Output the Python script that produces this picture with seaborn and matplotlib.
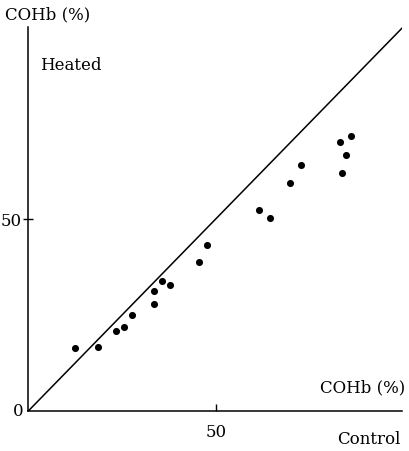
import matplotlib.pyplot as plt
import seaborn as sns

# COHb (%): control vs heated
control = [12.5, 18.7, 23.5, 25.5, 27.6, 33.5, 33.5, 35.8, 37.7, 45.5,
           47.8, 61.6, 64.6, 69.7, 72.7, 83.2, 86.0, 84.8, 83.8]
heated = [16.3, 16.7, 20.9, 21.9, 25.1, 31.3, 27.9, 33.9, 32.9, 38.7,
          43.3, 52.3, 50.3, 59.3, 64.1, 70.1, 71.6, 66.6, 62.1]
identity = [0, 100]

sns.set_style("ticks", {'text.color': 'black', 'xtick.color': 'black',
                        'ytick.color': 'black', 'axes.edgecolor': 'black'})
plt.rcParams['font.family'] = ['DejaVu Serif']

fig = plt.figure(figsize=(4.1, 4.52), dpi=100)
ax = fig.add_axes([0.069, 0.0885, 0.9115, 0.8496])

# line of identity
sns.lineplot(x=identity, y=identity, color='black', linewidth=1.1, ax=ax)
sns.scatterplot(x=control, y=heated, color='black', s=26, linewidth=0, ax=ax)

ax.set_xlim(0, 99.7)
ax.set_ylim(0, 100)
sns.despine(ax=ax)
for s in ['left', 'bottom']:
    ax.spines[s].set_linewidth(1.1)

ax.set_xticks([50])
ax.set_xticklabels(['50'])
ax.set_yticks([50])
ax.set_yticklabels(['50'])
ax.tick_params(axis='x', direction='in', length=5, width=1, pad=9, labelsize=12)
ax.tick_params(axis='y', direction='inout', length=7, width=1, pad=1, labelsize=12)
ax.text(-0.012, 0, '0', transform=ax.transAxes, ha='right', va='center', fontsize=12)

fig.text(0.012, 0.967, 'COHb (%)', ha='left', va='center', fontsize=12)
fig.text(0.098, 0.856, 'Heated', ha='left', va='center', fontsize=12)
fig.text(0.988, 0.142, 'COHb (%)', ha='right', va='center', fontsize=12)
fig.text(0.976, 0.027, 'Control', ha='right', va='center', fontsize=12)

plt.savefig('out.png', dpi=100)
